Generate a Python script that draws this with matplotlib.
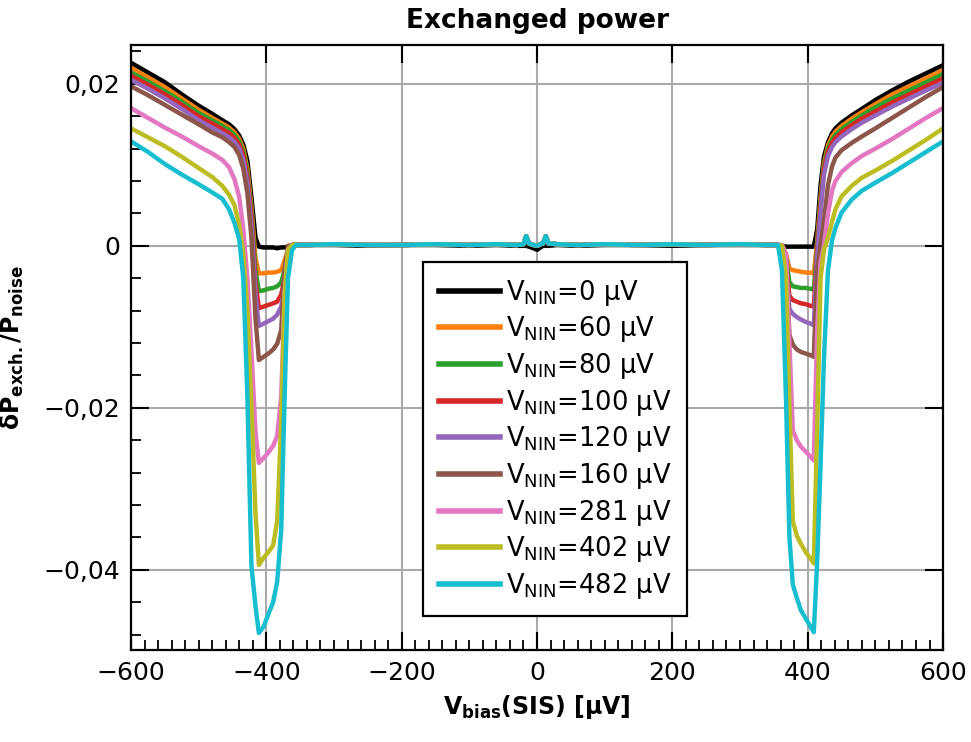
import numpy as np
import matplotlib
matplotlib.use("Agg")
import matplotlib.pyplot as plt
from matplotlib.ticker import MultipleLocator, FuncFormatter

plt.rcParams['font.family'] = ['DejaVu Sans']
plt.rcParams['mathtext.default'] = 'regular'

# bias voltage grid (µV): negative gap edge, flat middle, positive gap edge
v_left = [-600, -575, -550, -525, -500, -480, -465, -455, -447, -440, -434, -428,
          -422, -416, -411, -404, -397, -390, -384, -378, -373, -368, -362, -356]
v_mid = [-340, -300, -250, -200, -150, -100, -60, -30, -20, -16, -12, -5, 0,
         5, 9, 13, 17, 30, 60, 100, 150, 200, 250, 300, 340]
v_right = [356, 362, 368, 373, 378, 384, 390, 397, 404, 409, 414, 419, 424, 430,
           436, 441, 450, 465, 480, 500, 525, 550, 575, 600]

mid_0 = [0.0001, 0.0001, 0.0000, 0.0001, 0.0001, 0.0000, 0.0001, 0.0000, 0.0000,
         0.0000, -0.0001, -0.0003, -0.0005, -0.0002, 0.0000, 0.0000, 0.0000,
         0.0001, 0.0000, 0.0001, 0.0001, 0.0000, 0.0001, 0.0001, 0.0001]
mid_nin = [0.0001, 0.0002, 0.0001, 0.0001, 0.0002, 0.0001, 0.0002, 0.0001, 0.0002,
           0.0012, 0.0003, 0.0001, 0.0000, 0.0002, 0.0003, 0.0012, 0.0003,
           0.0002, 0.0001, 0.0002, 0.0001, 0.0002, 0.0001, 0.0002, 0.0001]

labels = ['0', '60', '80', '100', '120', '160', '281', '402', '482']
colors = ['black', '#ff7f0e', '#2ca02c', '#d62728', '#9467bd', '#8c564b',
          '#e377c2', '#bcbd22', '#17becf']

left = [
    [0.0226, 0.0214, 0.0202, 0.0187, 0.0173, 0.0163, 0.0155, 0.0150, 0.0144, 0.0136, 0.0125, 0.0105,
     0.0060, 0.0010, -0.0001, -0.0002, -0.0002, -0.0002, -0.0003, -0.0002, -0.0002, -0.0001, 0.0001, 0.0001],
    [0.0220, 0.0208, 0.0196, 0.0182, 0.0168, 0.0158, 0.0151, 0.0146, 0.0140, 0.0132, 0.0120, 0.0095,
     0.0048, -0.0015, -0.0034, -0.0034, -0.0033, -0.0033, -0.0032, -0.0030, -0.0018, -0.0005, 0.0001, 0.0001],
    [0.0214, 0.0203, 0.0191, 0.0178, 0.0164, 0.0155, 0.0148, 0.0143, 0.0137, 0.0129, 0.0116, 0.0090,
     0.0042, -0.0030, -0.0056, -0.0055, -0.0053, -0.0052, -0.0050, -0.0045, -0.0030, -0.0010, 0.0001, 0.0001],
    [0.0210, 0.0199, 0.0187, 0.0174, 0.0160, 0.0151, 0.0144, 0.0139, 0.0133, 0.0125, 0.0112, 0.0085,
     0.0035, -0.0045, -0.0077, -0.0075, -0.0073, -0.0071, -0.0069, -0.0060, -0.0040, -0.0012, 0.0001, 0.0001],
    [0.0205, 0.0194, 0.0182, 0.0169, 0.0155, 0.0146, 0.0139, 0.0134, 0.0128, 0.0120, 0.0106, 0.0078,
     0.0025, -0.0060, -0.0099, -0.0096, -0.0093, -0.0090, -0.0085, -0.0075, -0.0052, -0.0018, 0.0001, 0.0001],
    [0.0197, 0.0186, 0.0174, 0.0162, 0.0150, 0.0140, 0.0134, 0.0128, 0.0122, 0.0112, 0.0095, 0.0065,
     0.0010, -0.0090, -0.0141, -0.0137, -0.0133, -0.0128, -0.0121, -0.0104, -0.0030, 0.0000, 0.0001, 0.0001],
    [0.0170, 0.0158, 0.0146, 0.0135, 0.0123, 0.0114, 0.0106, 0.0097, 0.0082, 0.0060, 0.0020, -0.0040,
     -0.0130, -0.0230, -0.0268, -0.0262, -0.0255, -0.0247, -0.0235, -0.0186, -0.0060, -0.0005, 0.0001, 0.0001],
    [0.0145, 0.0134, 0.0123, 0.0110, 0.0096, 0.0085, 0.0074, 0.0063, 0.0050, 0.0025, -0.0010, -0.0080,
     -0.0200, -0.0330, -0.0394, -0.0385, -0.0378, -0.0370, -0.0340, -0.0220, -0.0063, -0.0005, 0.0001, 0.0001],
    [0.0129, 0.0116, 0.0101, 0.0088, 0.0076, 0.0066, 0.0058, 0.0045, 0.0028, 0.0008, -0.0040, -0.0186,
     -0.0395, -0.0445, -0.0478, -0.0470, -0.0455, -0.0440, -0.0415, -0.0351, -0.0186, -0.0040, -0.0005, 0.0001],
]

right = [
    [0.0001, 0.0000, -0.0001, -0.0001, -0.0001, -0.0001, -0.0001, -0.0001, -0.0001, -0.0001, 0.0020, 0.0075,
     0.0110, 0.0128, 0.0139, 0.0145, 0.0152, 0.0161, 0.0169, 0.0180, 0.0192, 0.0203, 0.0213, 0.0223],
    [0.0001, 0.0000, -0.0010, -0.0028, -0.0030, -0.0031, -0.0032, -0.0033, -0.0033, -0.0034, 0.0005, 0.0060,
     0.0102, 0.0124, 0.0135, 0.0141, 0.0148, 0.0157, 0.0165, 0.0175, 0.0187, 0.0197, 0.0207, 0.0217],
    [0.0001, 0.0000, -0.0015, -0.0045, -0.0050, -0.0051, -0.0052, -0.0052, -0.0053, -0.0054, -0.0002, 0.0055,
     0.0098, 0.0120, 0.0131, 0.0137, 0.0144, 0.0153, 0.0161, 0.0171, 0.0182, 0.0192, 0.0202, 0.0212],
    [0.0001, 0.0000, -0.0020, -0.0062, -0.0067, -0.0069, -0.0071, -0.0072, -0.0074, -0.0075, -0.0008, 0.0048,
     0.0094, 0.0116, 0.0127, 0.0133, 0.0140, 0.0149, 0.0157, 0.0166, 0.0177, 0.0187, 0.0197, 0.0207],
    [0.0001, 0.0000, -0.0025, -0.0078, -0.0084, -0.0088, -0.0091, -0.0094, -0.0096, -0.0098, -0.0015, 0.0040,
     0.0088, 0.0111, 0.0122, 0.0128, 0.0135, 0.0144, 0.0152, 0.0161, 0.0172, 0.0182, 0.0192, 0.0201],
    [0.0001, 0.0001, -0.0020, -0.0110, -0.0122, -0.0128, -0.0131, -0.0133, -0.0135, -0.0137, -0.0030, 0.0000,
     0.0030, 0.0075, 0.0098, 0.0109, 0.0118, 0.0127, 0.0135, 0.0145, 0.0158, 0.0171, 0.0184, 0.0196],
    [0.0001, 0.0001, -0.0010, -0.0120, -0.0228, -0.0240, -0.0248, -0.0254, -0.0260, -0.0265, -0.0104, -0.0020,
     0.0000, 0.0040, 0.0068, 0.0080, 0.0091, 0.0102, 0.0111, 0.0120, 0.0132, 0.0145, 0.0158, 0.0170],
    [0.0001, 0.0000, -0.0040, -0.0200, -0.0340, -0.0358, -0.0368, -0.0378, -0.0386, -0.0392, -0.0227, -0.0040,
     -0.0005, 0.0010, 0.0030, 0.0045, 0.0061, 0.0074, 0.0084, 0.0093, 0.0105, 0.0118, 0.0131, 0.0145],
    [0.0001, -0.0030, -0.0190, -0.0360, -0.0418, -0.0435, -0.0450, -0.0460, -0.0470, -0.0477, -0.0390, -0.0270,
     -0.0140, -0.0030, 0.0007, 0.0022, 0.0041, 0.0057, 0.0068, 0.0078, 0.0090, 0.0103, 0.0116, 0.0129],
]

v = np.concatenate([v_left, v_mid, v_right])

fig = plt.figure(figsize=(9.71, 7.42), dpi=100)
ax = fig.add_axes([0.1349, 0.124, 0.8363, 0.8154])

for i in range(len(labels)):
    mid = mid_0 if i == 0 else mid_nin
    y = np.concatenate([left[i], mid, right[i]])
    ax.plot(v, y, color=colors[i], lw=3.2,
            label='V$_{\\mathrm{NIN}}$=' + labels[i] + ' µV')

ax.set_xlim(-600, 600)
ax.set_ylim(-0.0499, 0.0248)
ax.set_xticks([-600, -400, -200, 0, 200, 400, 600])
ax.set_yticks([-0.04, -0.02, 0, 0.02])
ax.xaxis.set_minor_locator(MultipleLocator(20))
ax.yaxis.set_minor_locator(MultipleLocator(0.004))


def comma(val, pos):
    s = '%g' % round(val, 4)
    return s.replace('.', ',').replace('-', '\u2212')


ax.yaxis.set_major_formatter(FuncFormatter(comma))
ax.xaxis.set_major_formatter(FuncFormatter(comma))

ax.grid(True, which='major', color='#aaaaaa', lw=1.5)
ax.tick_params(which='major', direction='in', length=13, width=1.5,
               top=True, right=True, labelsize=18, pad=8)
ax.tick_params(which='minor', direction='in', length=7, width=1.3,
               top=False, right=False)
for s in ax.spines.values():
    s.set_linewidth(1.6)

ax.set_title('Exchanged power', fontsize=19, fontweight='bold', pad=12)
ax.set_xlabel('V$_{\\mathbf{bias}}$(SIS) [µV]', fontsize=17, fontweight='bold', labelpad=6)
ax.set_ylabel('δP$_{\\mathbf{exch.}}$/P$_{\\mathbf{noise}}$', fontsize=17,
              fontweight='bold', labelpad=12)

leg = ax.legend(loc='upper left', bbox_to_anchor=(0.36, 0.641), borderaxespad=0,
                fontsize=18.5, handlelength=2.4, handletextpad=0.2, labelspacing=0.26,
                fancybox=False, edgecolor='black', framealpha=1, borderpad=0.6)
leg.get_frame().set_linewidth(1.6)
for line in leg.get_lines():
    line.set_linewidth(4)

fig.savefig('out.png', dpi=100)
